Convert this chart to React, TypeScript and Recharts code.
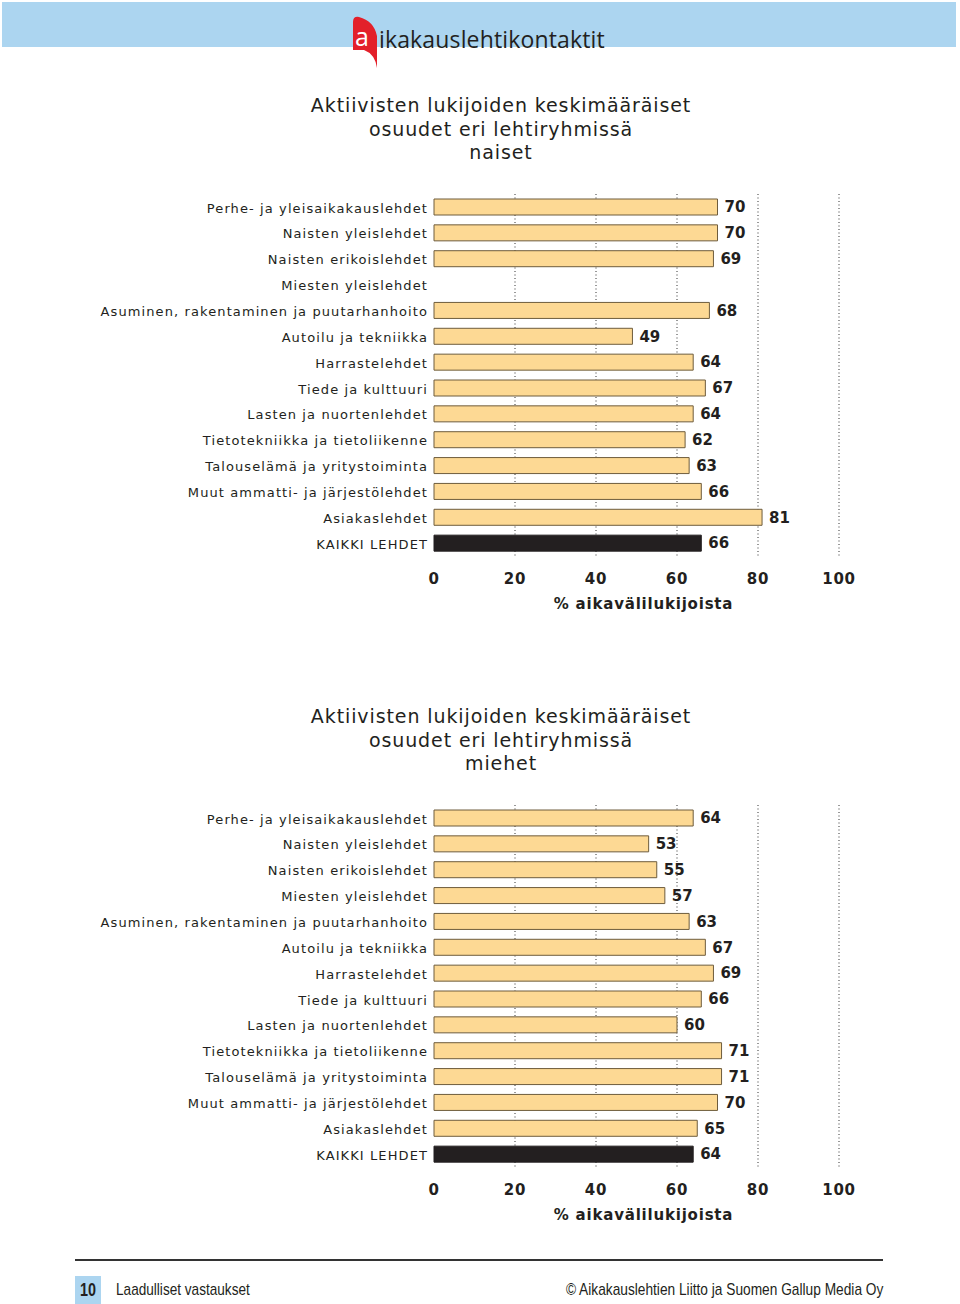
import React from "react";
import {
  BarChart,
  Bar,
  XAxis,
  YAxis,
  CartesianGrid,
  Cell,
  LabelList,
} from "recharts";

const categories = [
  "Perhe- ja yleisaikakauslehdet",
  "Naisten yleislehdet",
  "Naisten erikoislehdet",
  "Miesten yleislehdet",
  "Asuminen, rakentaminen ja puutarhanhoito",
  "Autoilu ja tekniikka",
  "Harrastelehdet",
  "Tiede ja kulttuuri",
  "Lasten ja nuortenlehdet",
  "Tietotekniikka ja tietoliikenne",
  "Talouselämä ja yritystoiminta",
  "Muut ammatti- ja järjestölehdet",
  "Asiakaslehdet",
  "KAIKKI LEHDET",
];

const naiset = [70, 70, 69, null, 68, 49, 64, 67, 64, 62, 63, 66, 81, 66];
const miehet = [64, 53, 55, 57, 63, 67, 69, 66, 60, 71, 71, 70, 65, 64];

const xTicks = [0, 20, 40, 60, 80, 100];
const gridValues = [20, 40, 60, 80, 100];

const titleLines = ["Aktiivisten lukijoiden keskimääräiset", "osuudet eri lehtiryhmissä"];
const axisTitle = "% aikavälilukijoista";

const INK = "#231f20";
const BAR_FILL = "#fdd994";
const BAR_STROKE = "#6e5c3c";
const BLUE = "#acd5f0";
const FONT = "'DejaVu Sans', Verdana, sans-serif";
const NARROW = "'Liberation Sans', Arial, sans-serif";

function ChartBlock({ top, subtitle, values }: { top: number; subtitle: string; values: (number | null)[] }) {
  const data = categories.map((name, i) => ({ name, value: values[i] }));
  return (
    <>
      <div
        style={{
          position: "absolute",
          top: top - 100,
          left: 201,
          width: 600,
          textAlign: "center",
          fontFamily: FONT,
          fontSize: 19,
          fontWeight: 400,
          letterSpacing: 0.9,
          lineHeight: "23.5px",
          color: INK,
        }}
      >
        {titleLines.map((t) => (
          <div key={t}>{t}</div>
        ))}
        <div>{subtitle}</div>
      </div>
      <div style={{ position: "absolute", top, left: 0 }}>
        <BarChart
          width={960}
          height={422}
          data={data}
          layout="vertical"
          margin={{ top: 0, right: 121, bottom: 0, left: 0 }}
          barCategoryGap={0}
        >
          <CartesianGrid
            horizontal={false}
            vertical
            verticalValues={gridValues}
            stroke="#333"
            strokeDasharray="1 2.5"
          />
          <XAxis
            type="number"
            domain={[0, 100]}
            ticks={xTicks}
            axisLine={false}
            tickLine={false}
            tickMargin={11}
            height={60}
            tick={{ fontFamily: FONT, fontSize: 15, fontWeight: 700, fill: INK, letterSpacing: 0.7 }}
            label={{
              value: axisTitle,
              position: "insideBottom",
              offset: 7,
              dx: 7,
              fontFamily: FONT,
              fontSize: 15,
              fontWeight: 700,
              fill: INK,
              letterSpacing: 0.8,
            }}
          />
          <YAxis
            type="category"
            dataKey="name"
            width={434}
            axisLine={false}
            tickLine={false}
            tickMargin={0}
            interval={0}
            tick={{ fontFamily: FONT, fontSize: 13, fill: INK, letterSpacing: 1.1, dy: 1 }}
          />
          <Bar dataKey="value" barSize={16} stroke={BAR_STROKE} strokeWidth={1} isAnimationActive={false}>
            {data.map((d, i) => (
              <Cell
                key={d.name}
                fill={i === data.length - 1 ? INK : BAR_FILL}
                stroke={i === data.length - 1 ? INK : BAR_STROKE}
              />
            ))}
            <LabelList
              dataKey="value"
              position="right"
              offset={7}
              style={{ fontFamily: FONT, fontSize: 15, fontWeight: 700, fill: INK }}
            />
          </Bar>
        </BarChart>
      </div>
    </>
  );
}

export default function App() {
  return (
    <div style={{ position: "absolute", top: 0, left: 0, width: 960, height: 1304, background: "#fff", overflow: "hidden" }}>
      {/* header */}
      <div style={{ position: "absolute", top: 2, left: 2, width: 954, height: 45, background: BLUE }} />
      <svg style={{ position: "absolute", top: 14, left: 350 }} width={30} height={56}>
        <path d="M3 8 Q3 2 9 3 Q24 7 27 22 L27 54 Q25 40 14 36 L3 36 Z" fill="#e3202a" />
        <text x={5} y={32} fontFamily="'Open Sans', sans-serif" fontSize={25} fill="#fff">a</text>
      </svg>
      <div
        style={{
          position: "absolute",
          top: 25,
          left: 379,
          fontFamily: "'Open Sans', sans-serif",
          fontSize: 23,
          letterSpacing: 0.15,
          color: INK,
          lineHeight: "28px",
        }}
      >
        ikakauslehtikontaktit
      </div>

      <ChartBlock top={194} subtitle="naiset" values={naiset} />
      <ChartBlock top={805} subtitle="miehet" values={miehet} />

      {/* footer */}
      <div style={{ position: "absolute", top: 1259, left: 75, width: 808, height: 2, background: "#333" }} />
      <div style={{ position: "absolute", top: 1276, left: 75, width: 26, height: 28, background: BLUE }} />
      <div
        style={{
          position: "absolute",
          top: 1279,
          left: 80,
          fontFamily: NARROW,
          fontWeight: 700,
          fontSize: 18,
          lineHeight: "22px",
          color: INK,
          transform: "scaleX(0.8)",
          transformOrigin: "left center",
        }}
      >
        10
      </div>
      <div
        style={{
          position: "absolute",
          top: 1279,
          left: 116,
          fontFamily: NARROW,
          fontSize: 17,
          lineHeight: "22px",
          color: INK,
          whiteSpace: "nowrap",
          transform: "scaleX(0.8)",
          transformOrigin: "left center",
        }}
      >
        Laadulliset vastaukset
      </div>
      <div
        style={{
          position: "absolute",
          top: 1279,
          right: 960 - 883,
          fontFamily: NARROW,
          fontSize: 17,
          lineHeight: "22px",
          color: INK,
          whiteSpace: "nowrap",
          transform: "scaleX(0.807)",
          transformOrigin: "right center",
        }}
      >
        © Aikakauslehtien Liitto ja Suomen Gallup Media Oy
      </div>
    </div>
  );
}
